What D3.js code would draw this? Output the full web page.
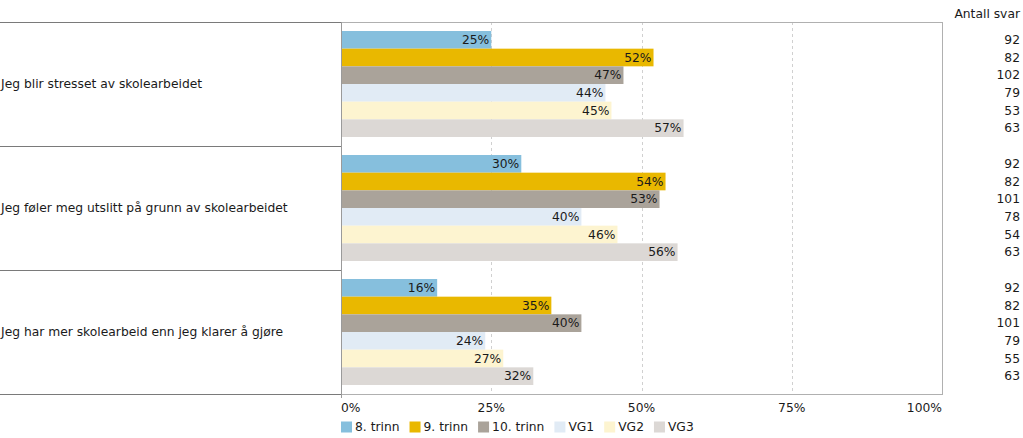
<!DOCTYPE html>
<html><head><meta charset="utf-8">
<script src="https://cdn.jsdelivr.net/npm/d3@7"></script>
<style>body{margin:0;background:#fff}svg{display:block}text{font-family:"DejaVu Sans",Verdana,sans-serif;font-size:12.3px;fill:#1a1a1a}</style>
</head><body><svg id="c" width="1023" height="438"></svg>
<script>
const categories = ["Jeg blir stresset av skolearbeidet","Jeg føler meg utslitt på grunn av skolearbeidet","Jeg har mer skolearbeid enn jeg klarer å gjøre"];
const seriesNames = ["8. trinn","9. trinn","10. trinn","VG1","VG2","VG3"];
const seriesColors = ["#86bfdd","#e9b800","#aaa39a","#e1ebf5","#fdf4d0","#dcd8d5"];
const values = [
  [25,52,47,44,45,57],
  [30,54,53,40,46,56],
  [16,35,40,24,27,32]
];
const counts = [
  [92,82,102,79,53,63],
  [92,82,101,78,54,63],
  [92,82,101,79,55,63]
];
const tickValues = [0,25,50,75,100];
const countHeader = "Antall svar";

const svg = d3.select("#c");
const x0 = 341, x1 = 942, yTop = 22, yBot = 394;
const x = d3.scaleLinear().domain([0,100]).range([x0,x1]);
const y = d3.scaleBand().domain(categories).range([yTop,yBot]);
const yi = d3.scaleBand().domain(seriesNames).range([9, y.bandwidth()-9]);

// grid
svg.append("g").selectAll("line").data(tickValues.filter(t=>t>0&&t<100)).join("line")
  .attr("x1",d=>Math.round(x(d))+0.5).attr("x2",d=>Math.round(x(d))+0.5)
  .attr("y1",yTop).attr("y2",yBot).attr("stroke","#d0d0d0").attr("stroke-dasharray","3,3");

// bars
const g = svg.append("g").selectAll("g").data(categories).join("g")
  .attr("transform",d=>`translate(0,${y(d)})`);
g.each(function(cat,ci){
  const gg = d3.select(this);
  const rows = seriesNames.map((s,si)=>({s,si,v:values[ci][si],n:counts[ci][si]}));
  gg.selectAll("rect").data(rows).join("rect")
    .attr("x",x(0)).attr("y",d=>yi(d.s)).attr("width",d=>x(d.v)-x(0)).attr("height",yi.bandwidth())
    .attr("fill",d=>seriesColors[d.si]);
  gg.selectAll("text.v").data(rows).join("text").attr("class","v")
    .attr("x",d=>x(d.v)-2).attr("y",d=>yi(d.s)+yi.bandwidth()/2).attr("dy","0.35em")
    .attr("text-anchor","end").text(d=>d.v+"%");
  gg.selectAll("text.n").data(rows).join("text").attr("class","n")
    .attr("x",1020).attr("y",d=>yi(d.s)+yi.bandwidth()/2).attr("dy","0.35em")
    .attr("text-anchor","end").text(d=>d.n);
  gg.append("text").attr("x",1).attr("y",y.bandwidth()/2).attr("dy","0.35em").text(cat);
});

// table lines
const bounds = [yTop, ...categories.slice(1).map(c=>y(c)), yBot];
svg.append("g").selectAll("line").data(bounds).join("line")
  .attr("x1",0).attr("x2",x0).attr("y1",d=>Math.round(d)+0.5).attr("y2",d=>Math.round(d)+0.5)
  .attr("stroke","#7a7a7a");
// plot frame
svg.append("rect").attr("x",x0+0.5).attr("y",yTop+0.5).attr("width",x1-x0).attr("height",yBot-yTop)
  .attr("fill","none").attr("stroke","#b0b0b0");
svg.append("line").attr("x1",x0+0.5).attr("x2",x0+0.5).attr("y1",yTop).attr("y2",yBot+4).attr("stroke","#9a9a9a");

// header
svg.append("text").attr("x",1020).attr("y",14).attr("dy","0.35em").attr("text-anchor","end").text(countHeader);

// x tick labels
svg.append("g").selectAll("text").data(tickValues).join("text")
  .attr("x",d=>x(d)).attr("y",408).attr("dy","0.35em")
  .attr("text-anchor",(d,i)=>i===0?"start":(i===tickValues.length-1?"end":"middle"))
  .text(d=>d+"%");

// legend
const lg = svg.append("g").attr("transform","translate(341,427)");
let off = 0;
seriesNames.forEach((s,i)=>{
  const it = lg.append("g").attr("transform",`translate(${off},0)`);
  it.append("rect").attr("x",0).attr("y",-5.5).attr("width",11).attr("height",11).attr("fill",seriesColors[i]);
  const t = it.append("text").attr("x",14).attr("y",0).attr("dy","0.35em").text(s);
  off += 14 + t.node().getComputedTextLength() + 10;
});
</script></body></html>
